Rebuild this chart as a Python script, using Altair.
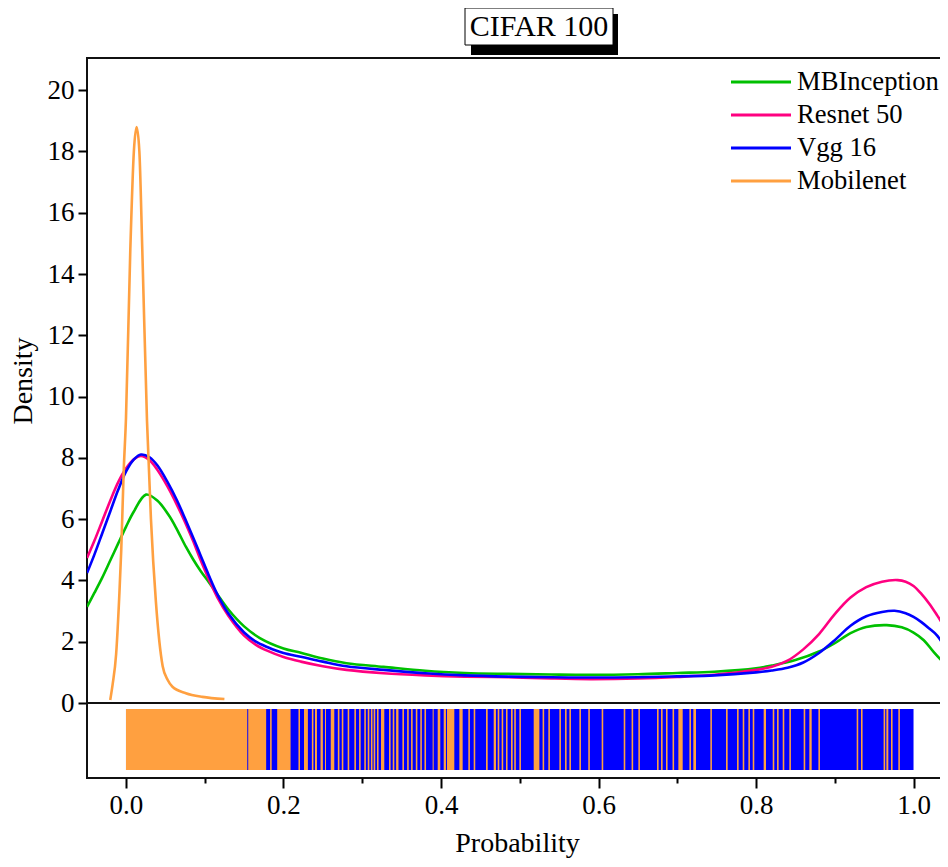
import altair as alt
import pandas as pd

# ---------------- data ----------------
models = ["MBInception", "Resnet 50", "Vgg 16", "Mobilenet"]
colors = ["#00C000", "#FF0080", "#0000FF", "#FFA040"]
chart_title = ["CIFAR 100"]

mb_x = [-0.0495, -0.04, -0.03, -0.02, -0.01, 0.0, 0.01, 0.0254, 0.04, 0.055, 0.065, 0.076, 0.085,
        0.095, 0.105, 0.116, 0.13, 0.15, 0.17, 0.2, 0.222, 0.25, 0.28, 0.327, 0.38, 0.43, 0.485, 0.54,
        0.59, 0.65, 0.7, 0.747, 0.8, 0.82, 0.85, 0.88, 0.9, 0.92, 0.94, 0.966, 0.985, 1.0, 1.013,
        1.026, 1.045]
mb_y = [3.14, 3.6, 4.1, 4.65, 5.2, 5.75, 6.25, 6.8, 6.6, 6.1, 5.65, 5.1, 4.7,
        4.3, 3.95, 3.55, 3.05, 2.5, 2.12, 1.78, 1.64, 1.45, 1.3, 1.18, 1.05, 0.98, 0.95, 0.93,
        0.92, 0.94, 0.98, 1.02, 1.13, 1.22, 1.4, 1.68, 1.95, 2.28, 2.48, 2.54, 2.47, 2.3, 2.05,
        1.65, 1.13]

rn_x = [-0.0495, -0.04, -0.03, -0.02, -0.01, 0.0, 0.01, 0.019, 0.03, 0.04, 0.053, 0.065, 0.075, 0.085,
        0.095, 0.105, 0.116, 0.13, 0.15, 0.165, 0.18, 0.2, 0.222, 0.25, 0.28, 0.327, 0.38, 0.43,
        0.485, 0.54, 0.59, 0.65, 0.7, 0.747, 0.8, 0.82, 0.84, 0.86, 0.88, 0.9, 0.92, 0.94, 0.96, 0.98,
        0.99, 1.0, 1.01, 1.02, 1.03, 1.045]
rn_y = [4.73, 5.3, 5.95, 6.6, 7.2, 7.65, 7.95, 8.06, 7.92, 7.6, 7.05, 6.45, 5.9, 5.3,
        4.65, 4.05, 3.45, 2.85, 2.2, 1.9, 1.7, 1.5, 1.35, 1.2, 1.08, 0.97, 0.9, 0.86,
        0.84, 0.8, 0.78, 0.8, 0.85, 0.92, 1.08, 1.18, 1.38, 1.75, 2.25, 2.9, 3.44, 3.78, 3.96, 4.01,
        3.96, 3.82, 3.56, 3.24, 2.86, 2.25]

vg_x = [-0.0495, -0.04, -0.03, -0.02, -0.01, 0.0, 0.01, 0.019, 0.03, 0.04, 0.053, 0.065, 0.075, 0.085,
        0.095, 0.105, 0.116, 0.13, 0.15, 0.165, 0.18, 0.2, 0.222, 0.25, 0.28, 0.327, 0.38, 0.43,
        0.485, 0.54, 0.59, 0.65, 0.7, 0.747, 0.8, 0.82, 0.84, 0.86, 0.88, 0.9, 0.92, 0.94, 0.96, 0.976,
        0.99, 1.0, 1.01, 1.02, 1.03, 1.045]
vg_y = [4.24, 4.85, 5.55, 6.25, 6.95, 7.55, 7.95, 8.11, 8.02, 7.75, 7.2, 6.6, 6.02, 5.42,
        4.8, 4.18, 3.55, 2.92, 2.3, 2.0, 1.82, 1.63, 1.51, 1.35, 1.2, 1.08, 0.97, 0.9,
        0.86, 0.84, 0.83, 0.84, 0.87, 0.9, 1.0, 1.06, 1.15, 1.32, 1.63, 2.05, 2.52, 2.83, 2.97, 3.01,
        2.93, 2.81, 2.64, 2.43, 2.2, 1.6]

mo_x = [-0.02, -0.017, -0.0125, -0.0085, -0.006, -0.003, 0.0, 0.0055, 0.01, 0.0135, 0.017, 0.0207,
        0.0267, 0.0317, 0.038, 0.0466, 0.053, 0.059, 0.076, 0.097, 0.125]
mo_y = [0.1, 0.6, 1.6, 3.5, 5.0, 7.5, 9.3, 14.8, 18.0, 18.8, 18.0, 14.8,
        9.2, 6.0, 3.3, 1.2, 0.75, 0.53, 0.32, 0.2, 0.13]

# rug: Vgg 16 observations (dense band) and Mobilenet observations (start, end)
vgg_rug_start = [0.0]
vgg_rug_end = [1.0]
mob_rug_start = [0.0, 0.1552, 0.183, 0.192, 0.219, 0.226, 0.236, 0.240, 0.247, 0.2527, 0.260, 0.269, 0.274,
                 0.2815, 0.290, 0.296, 0.3026, 0.307, 0.311, 0.3145, 0.3187, 0.3238, 0.334, 0.3387, 0.343,
                 0.351, 0.357, 0.362, 0.368, 0.3737, 0.379, 0.3894, 0.3958, 0.4034, 0.4076, 0.4233, 0.4347,
                 0.4415, 0.4571, 0.4669, 0.472, 0.477, 0.4825, 0.4889, 0.493, 0.4995, 0.5177, 0.529, 0.5363,
                 0.5503, 0.5575, 0.563, 0.5757, 0.587, 0.604, 0.632, 0.642, 0.6506, 0.6743, 0.6794, 0.6857,
                 0.694, 0.7014, 0.7154, 0.7204, 0.742, 0.7619, 0.7759, 0.7831, 0.7903, 0.7958, 0.8097,
                 0.8212, 0.8267, 0.8339, 0.8423, 0.8605, 0.8677, 0.8792, 0.9278, 0.9333, 0.962, 0.9655,
                 0.9714, 0.9807]
mob_rug_end = [0.1540, 0.178, 0.185, 0.209, 0.221, 0.231, 0.238, 0.2425, 0.250, 0.254, 0.2645, 0.271, 0.276,
               0.2835, 0.292, 0.298, 0.3046, 0.309, 0.313, 0.3165, 0.3207, 0.328, 0.336, 0.3407, 0.346,
               0.353, 0.359, 0.364, 0.370, 0.3757, 0.381, 0.3907, 0.3991, 0.4063, 0.4169, 0.4275, 0.4367,
               0.4435, 0.4593, 0.4698, 0.474, 0.479, 0.4845, 0.491, 0.495, 0.5015, 0.5249, 0.531, 0.5383,
               0.5523, 0.5595, 0.565, 0.5777, 0.589, 0.606, 0.634, 0.644, 0.6526, 0.6763, 0.6814, 0.6877,
               0.696, 0.7069, 0.7174, 0.7238, 0.744, 0.764, 0.7779, 0.7851, 0.7923, 0.7978, 0.8127,
               0.8232, 0.8287, 0.8359, 0.8443, 0.8625, 0.8707, 0.8812, 0.9298, 0.9353, 0.964, 0.968,
               0.9734, 0.9827]

# ---------------- tables ----------------
rows = []
for name, xs, ys in [("MBInception", mb_x, mb_y), ("Resnet 50", rn_x, rn_y),
                     ("Vgg 16", vg_x, vg_y), ("Mobilenet", mo_x, mo_y)]:
    for xv, yv in zip(xs, ys):
        rows.append({"model": name, "prob": xv, "density": yv})
dens = pd.DataFrame(rows)
leg = pd.DataFrame({"model": models, "row": list(range(len(models)))})

FONT = "Liberation Serif"
W = 860
XDOM = [-0.0495, 1.0425]
xscale = alt.Scale(domain=XDOM, nice=False, zero=False)
cscale = alt.Scale(domain=models, range=colors)
color = alt.Color("model:N", scale=cscale, legend=None)

yaxis = alt.Axis(values=list(range(0, 21, 2)), title="Density", tickSize=9, grid=False,
                 tickWidth=2, labelFont=FONT, labelFontSize=27, labelPadding=4,
                 titleFont=FONT, titleFontSize=28, titleFontWeight="normal", titlePadding=10)

base = alt.Chart(dens)
line_layers = []
for m in models:
    interp = "monotone" if m == "Mobilenet" else "catmull-rom"
    line_layers.append(
        base.transform_filter(alt.datum.model == m)
        .mark_line(strokeWidth=2.6, interpolate=interp, clip=True)
        .encode(
            x=alt.X("prob:Q", scale=xscale, axis=None),
            y=alt.Y("density:Q", scale=alt.Scale(domain=[0, 21.05], nice=False, zero=True),
                    axis=yaxis),
            color=color,
        )
    )
lines = alt.layer(*line_layers)

# legend (drawn inside the plot, top right)
ly = alt.Y("row:Q", scale=alt.Scale(domain=[0, 3], range=[24, 123], nice=False, zero=False),
           axis=None)
leg_lines = alt.Chart(leg).mark_rule(strokeWidth=3).encode(
    x=alt.value(644), x2=alt.value(704), y=ly, color=color)
leg_text = alt.Chart(leg).mark_text(font=FONT, fontSize=26.6, align="left", baseline="middle",
                                    color="black").encode(x=alt.value(710), y=ly, text="model:N")
legend = alt.layer(leg_lines, leg_text)

tdf = pd.DataFrame({"t": chart_title})
shadow = alt.Chart(tdf).mark_rect(color="black").encode(
    x=alt.value(384), x2=alt.value(531), y=alt.value(-44), y2=alt.value(-3))
box = alt.Chart(tdf).mark_rect(fill="white", stroke="black", strokeWidth=1).encode(
    x=alt.value(378), x2=alt.value(526), y=alt.value(-50), y2=alt.value(-13))
ttext = alt.Chart(tdf).mark_text(font=FONT, fontSize=30, align="center", baseline="middle",
                                 color="black").encode(
    x=alt.value(452), y=alt.value(-31), text="t:N")
titlebox = alt.layer(shadow, box, ttext)

top = alt.layer(lines, legend, titlebox).resolve_scale(y="independent").properties(
    width=W, height=645)

maj = "round(datum.value*10) % 2 == 0"
xaxis = alt.Axis(
    values=[round(i * 0.1, 1) for i in range(11)],
    labelExpr=f"{maj} ? format(datum.value, '.1f') : ''",
    tickSize={"condition": {"test": maj, "value": 10}, "value": 5},
    tickWidth=2, grid=False, labelFont=FONT, labelFontSize=27, labelPadding=4,
    title="Probability", titleFont=FONT, titleFontSize=28, titleFontWeight="normal",
    titlePadding=11,
)

rug_blue_df = pd.DataFrame({"start": vgg_rug_start, "end": vgg_rug_end})
rug_orange_df = pd.DataFrame({"start": mob_rug_start, "end": mob_rug_end})

rug_blue = alt.Chart(rug_blue_df).mark_rect(color=colors[2]).encode(
    x=alt.X("start:Q", scale=xscale, axis=xaxis), x2="end:Q",
    y=alt.value(6), y2=alt.value(67))
rug_orange = alt.Chart(rug_orange_df).mark_rect(color=colors[3]).encode(
    x=alt.X("start:Q", scale=xscale, axis=xaxis), x2="end:Q",
    y=alt.value(6), y2=alt.value(67))
rug = alt.layer(rug_blue, rug_orange).properties(width=W, height=75)

chart = (
    alt.vconcat(top, rug, spacing=0, bounds="flush")
    .properties(padding={"left": 0, "top": -2, "right": -8, "bottom": 0},
                background="white")
    .configure_view(stroke="#111111", strokeWidth=2)
    .configure_axis(grid=False, domain=False, tickColor="black", labelColor="black",
                    titleColor="black")
)

chart.save("out.html", embed_options={"renderer": "svg", "actions": False})
